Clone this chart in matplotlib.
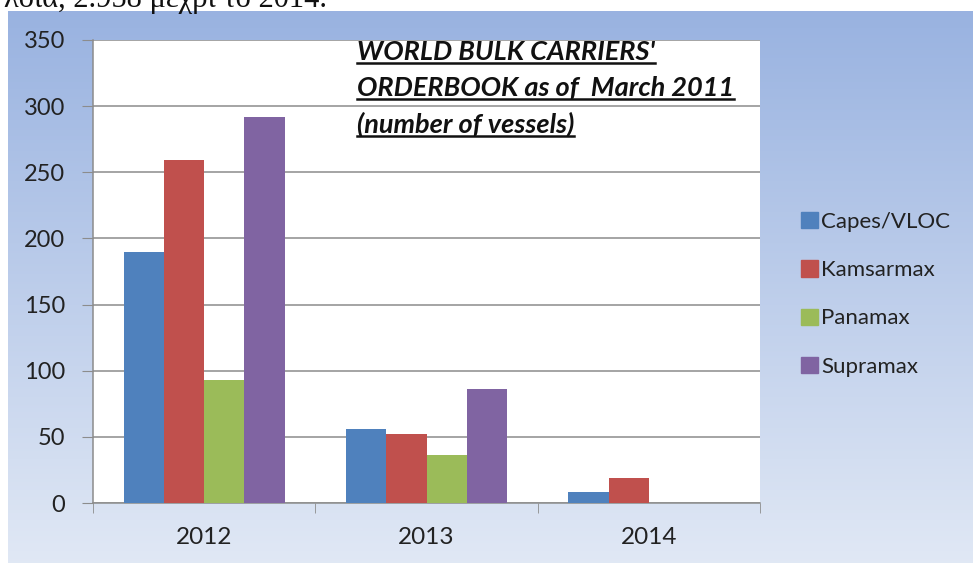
import numpy as np
import matplotlib
matplotlib.use("Agg")
import matplotlib.pyplot as plt
from matplotlib.lines import Line2D
from matplotlib.patches import Patch

# data
years = ["2012", "2013", "2014"]
series = ["Capes/VLOC", "Kamsarmax", "Panamax", "Supramax"]
capes = [190, 56, 8]
kamsarmax = [259, 52, 19]
panamax = [93, 36, 0]
supramax = [292, 86, 0]
colors = ["#4F81BD", "#C0504D", "#9BBB59", "#8064A2"]
title_lines = ["WORLD BULK CARRIERS'", "ORDERBOOK as of  March 2011", "(number of vessels)"]

plt.rcParams["font.family"] = ["Lato", "DejaVu Sans"]
W, H = 973, 563
fig = plt.figure(figsize=(W / 100, H / 100), dpi=100)
fig.patch.set_facecolor("white")

# gradient backdrop of the chart object
bg = fig.add_axes([8 / W, 0, 1 - 8 / W, (H - 11) / H])
top = np.array([0.60, 0.70, 0.88])
bot = np.array([0.88, 0.91, 0.96])
t = np.linspace(0, 1, 256)[:, None]
grad = (top * (1 - t) + bot * t)[:, None, :]
bg.imshow(grad, aspect="auto", extent=[0, 1, 0, 1])
bg.set_axis_off()

# cut-off caption line from the page above the chart
fig.text(0.004, 1 - 7 / H, "λοία, 2.958 μέχρι το 2014.", family="Liberation Serif",
         fontsize=22, va="baseline", ha="left", color="#111")

ax = fig.add_axes([93 / W, (H - 503) / H, (760 - 93) / W, (503 - 40) / H])
ax.set_facecolor("white")

x = np.arange(len(years))
bw = 0.181
for i, (name, vals) in enumerate(zip(series, [capes, kamsarmax, panamax, supramax])):
    ax.bar(x + (i - 1.5) * bw, vals, width=bw, color=colors[i], label=name, zorder=3)

ax.set_xlim(-0.5, 2.5)
ax.set_ylim(0, 350)
ax.set_yticks(range(0, 351, 50))
ax.yaxis.grid(True, color="#8c8c8c", lw=1.1, zorder=0)
ax.set_xticks(x)
ax.set_xticklabels(years)
ax.set_xticks([-0.5, 0.5, 1.5, 2.5], minor=True)
ax.tick_params(axis="x", which="major", length=0, pad=17, labelsize=17.5, colors="#222")
ax.tick_params(axis="x", which="minor", length=7, color="#8c8c8c", direction="out")
ax.tick_params(axis="y", length=8, color="#8c8c8c", pad=12, labelsize=17, labelcolor="#222")
for s in ["top", "right"]:
    ax.spines[s].set_visible(False)
for s in ["left", "bottom"]:
    ax.spines[s].set_color("#8c8c8c")
    ax.spines[s].set_linewidth(1.1)

handles = [Patch(color=c, label=n) for c, n in zip(colors, series)]
fig.legend(handles=handles, loc="upper left", bbox_to_anchor=(781 / W, 1 - 192 / H),
           frameon=False, fontsize=16, handlelength=0.75, handleheight=0.75,
           handletextpad=0.15, labelspacing=1.27, labelcolor="#222")

# title block inside the plot, bold italic and underlined
ys = [52, 88, 124]
texts = []
for line, yy in zip(title_lines, ys):
    texts.append(fig.text(357 / W, 1 - yy / H, line, fontsize=19.5, fontweight="bold",
                          fontstyle="italic", va="center", ha="left", color="#111"))
fig.canvas.draw()
r = fig.canvas.get_renderer()
for tx in texts:
    bb = tx.get_window_extent(r)
    yl = (bb.y0 + 1) / H
    fig.add_artist(Line2D([bb.x0 / W, bb.x1 / W], [yl, yl], color="#111", lw=1.8,
                          transform=fig.transFigure))

fig.savefig("out.png", dpi=100)
